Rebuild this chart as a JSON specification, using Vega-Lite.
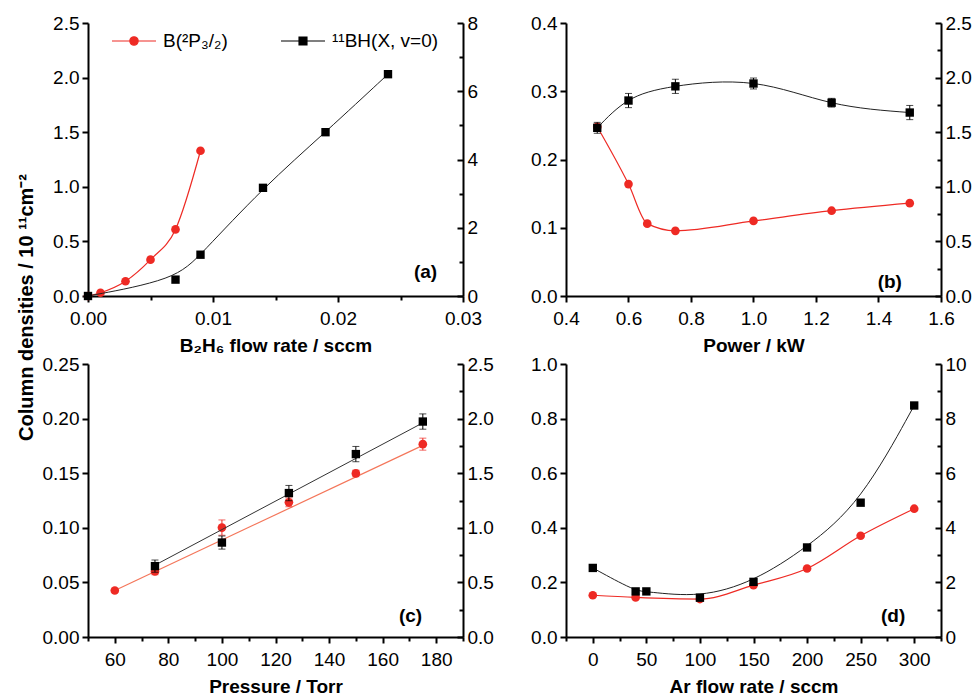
{
  "$schema": "https://vega.github.io/schema/vega-lite/v6.json",
  "background": "white",
  "padding": {"left": 16, "top": 14, "right": 5, "bottom": 5},
  "data": {"values": [
    {"p":"a","s":"r","x":0,"y":0},{"p":"a","s":"r","x":0.001,"y":0.03},{"p":"a","s":"r","x":0.003,"y":0.135},{"p":"a","s":"r","x":0.005,"y":0.333},{"p":"a","s":"r","x":0.007,"y":0.61},{"p":"a","s":"r","x":0.009,"y":1.33},
    {"p":"a","s":"k","x":0,"y":0},{"p":"a","s":"k","x":0.007,"y":0.48},{"p":"a","s":"k","x":0.009,"y":1.21},{"p":"a","s":"k","x":0.014,"y":3.17},{"p":"a","s":"k","x":0.019,"y":4.8},{"p":"a","s":"k","x":0.024,"y":6.5},
    {"p":"b","s":"r","x":0.5,"y":0.248},{"p":"b","s":"r","x":0.6,"y":0.164},{"p":"b","s":"r","x":0.66,"y":0.106},{"p":"b","s":"r","x":0.75,"y":0.0955},{"p":"b","s":"r","x":1.0,"y":0.11},{"p":"b","s":"r","x":1.25,"y":0.125},{"p":"b","s":"r","x":1.5,"y":0.136},
    {"p":"b","s":"k","x":0.5,"y":1.54,"e":0.05},{"p":"b","s":"k","x":0.6,"y":1.79,"e":0.065},{"p":"b","s":"k","x":0.75,"y":1.92,"e":0.065},{"p":"b","s":"k","x":1.0,"y":1.946,"e":0.05},{"p":"b","s":"k","x":1.25,"y":1.77,"e":0.04},{"p":"b","s":"k","x":1.5,"y":1.68,"e":0.065},
    {"p":"c","s":"r","x":60,"y":0.0426,"e":0},{"p":"c","s":"r","x":75,"y":0.06,"e":0.003},{"p":"c","s":"r","x":100,"y":0.1002,"e":0.007},{"p":"c","s":"r","x":125,"y":0.1233,"e":0.004},{"p":"c","s":"r","x":150,"y":0.1498,"e":0.003},{"p":"c","s":"r","x":175,"y":0.1766,"e":0.0055},
    {"p":"c","s":"fr","x":60,"y":0.0426},{"p":"c","s":"fr","x":175,"y":0.1755},
    {"p":"c","s":"k","x":75,"y":0.649,"e":0.056},{"p":"c","s":"k","x":100,"y":0.865,"e":0.06},{"p":"c","s":"k","x":125,"y":1.318,"e":0.07},{"p":"c","s":"k","x":150,"y":1.675,"e":0.07},{"p":"c","s":"k","x":175,"y":1.973,"e":0.07},
    {"p":"c","s":"fk","x":75,"y":0.658},{"p":"c","s":"fk","x":175,"y":1.961},
    {"p":"d","s":"r","x":0,"y":0.153},{"p":"d","s":"r","x":40,"y":0.145},{"p":"d","s":"r","x":100,"y":0.139},{"p":"d","s":"r","x":150,"y":0.19},{"p":"d","s":"r","x":200,"y":0.251},{"p":"d","s":"r","x":250,"y":0.371},{"p":"d","s":"r","x":300,"y":0.47},
    {"p":"d","s":"k","x":0,"y":2.53},{"p":"d","s":"k","x":40,"y":1.67},{"p":"d","s":"k","x":50,"y":1.67},{"p":"d","s":"k","x":100,"y":1.44},{"p":"d","s":"k","x":150,"y":2.02},{"p":"d","s":"k","x":200,"y":3.28},{"p":"d","s":"k","x":250,"y":4.92},{"p":"d","s":"k","x":300,"y":8.48}
  ]},
  "columns": 2,
  "spacing": {"row": 68, "column": 103},
  "bounds": "flush",
  "concat": [
    {
      "width": 375, "height": 273,
      "transform": [{"filter": "datum.p == 'a'"}],
      "layer": [
        {
          "layer": [
            {
              "transform": [{"filter": "datum.s == 'r'"}],
              "encoding": {
                "x": {"field": "x", "type": "quantitative",
                  "scale": {"domain": [0, 0.03], "nice": false, "zero": false},
                  "axis": {"title": "B₂H₆ flow rate / sccm", "values": [0,0.005,0.01,0.015,0.02,0.025,0.03], "format": ".2f",
                    "labelExpr": "abs(datum.value*100-round(datum.value*100))<0.01 ? datum.label : ''",
                    "tickSize": {"condition": {"test": "abs(datum.value*100-round(datum.value*100))<0.01", "value": 6}, "value": 4}}},
                "y": {"field": "y", "type": "quantitative",
                  "scale": {"domain": [0, 2.5], "nice": false},
                  "axis": {"orient": "left", "title": "Column densities / 10 ¹¹cm⁻²", "titleFontSize": 20, "titleX": -62, "titleY": 284, "titleAngle": -90, "titleAlign": "center", "titleBaseline": "middle",
                    "values": [0,0.25,0.5,0.75,1,1.25,1.5,1.75,2,2.25,2.5], "format": ".1f",
                    "labelExpr": "abs(datum.value*2-round(datum.value*2))<0.01 ? datum.label : ''",
                    "tickSize": {"condition": {"test": "abs(datum.value*2-round(datum.value*2))<0.01", "value": 6}, "value": 4}}}},
              "layer": [
                {"mark": {"type": "line", "color": "#ee2a24", "strokeWidth": 1.2, "interpolate": "monotone"}},
                {"mark": {"type": "point", "shape": "circle", "filled": true, "color": "#ee2a24", "size": 75, "opacity": 1}}
              ]
            },
            {"data": {"values": [{"t": "(a)"}]}, "mark": {"type": "text", "fontWeight": "bold", "fontSize": 19, "font": "Liberation Sans", "color": "black"},
             "encoding": {"x": {"datum": 0.027}, "y": {"datum": 0.22}, "text": {"field": "t"}}},
            {"data": {"values": [{"series": "B(²P₃/₂)"}, {"series": "¹¹BH(X, v=0)"}]},
             "mark": {"type": "point", "filled": true, "opacity": 0},
             "encoding": {"x": {"datum": 0}, "y": {"datum": 0},
               "fill": {"field": "series", "type": "nominal", "scale": {"domain": ["B(²P₃/₂)", "¹¹BH(X, v=0)"], "range": ["#ee2a24", "#000000"]}, "title": null},
               "stroke": {"field": "series", "type": "nominal", "scale": {"domain": ["B(²P₃/₂)", "¹¹BH(X, v=0)"], "range": ["#ee2a24", "#000000"]}, "title": null},
               "shape": {"field": "series", "type": "nominal", "scale": {"domain": ["B(²P₃/₂)", "¹¹BH(X, v=0)"], "range": ["M-1,0H1M-0.19,0A0.19,0.19,0,1,1,0.19,0A0.19,0.19,0,1,1,-0.19,0Z", "M-1,0H1M-0.18,-0.18H0.18V0.18H-0.18Z"]}, "title": null}}}
          ]
        },
        {
          "transform": [{"filter": "datum.s == 'k'"}],
          "encoding": {
            "x": {"field": "x", "type": "quantitative",
              "scale": {"domain": [0, 0.03], "nice": false, "zero": false},
              "axis": {"title": "B₂H₆ flow rate / sccm", "values": [0,0.005,0.01,0.015,0.02,0.025,0.03], "format": ".2f",
                "labelExpr": "abs(datum.value*100-round(datum.value*100))<0.01 ? datum.label : ''",
                "tickSize": {"condition": {"test": "abs(datum.value*100-round(datum.value*100))<0.01", "value": 6}, "value": 4}}},
            "y": {"field": "y", "type": "quantitative",
              "scale": {"domain": [0, 8], "nice": false},
              "axis": {"orient": "right", "title": null, "values": [0,1,2,3,4,5,6,7,8], "format": "d",
                "labelExpr": "datum.value % 2 == 0 ? datum.label : ''",
                "tickSize": {"condition": {"test": "datum.value % 2 == 0", "value": -6}, "value": -4}}}},
          "layer": [
            {"mark": {"type": "line", "color": "#222222", "strokeWidth": 1, "interpolate": "basis"}},
            {"mark": {"type": "point", "shape": "square", "filled": true, "color": "#000000", "size": 70, "opacity": 1}}
          ]
        }
      ],
      "resolve": {"scale": {"y": "independent"}, "axis": {"y": "independent"}}
    },
    {
      "width": 375, "height": 273,
      "transform": [{"filter": "datum.p == 'b'"}],
      "layer": [
        {
          "layer": [
            {
              "transform": [{"filter": "datum.s == 'r'"}],
              "encoding": {
                "x": {"field": "x", "type": "quantitative",
                  "scale": {"domain": [0.4, 1.6], "nice": false, "zero": false},
                  "axis": {"title": "Power / kW", "values": [0.4,0.5,0.6,0.7,0.8,0.9,1.0,1.1,1.2,1.3,1.4,1.5,1.6], "format": ".1f",
                    "labelExpr": "abs(datum.value*5-round(datum.value*5))<0.01 ? datum.label : ''",
                    "tickSize": {"condition": {"test": "abs(datum.value*5-round(datum.value*5))<0.01", "value": 6}, "value": 4}}},
                "y": {"field": "y", "type": "quantitative",
                  "scale": {"domain": [0, 0.4], "nice": false},
                  "axis": {"orient": "left", "title": null, "values": [0,0.05,0.1,0.15,0.2,0.25,0.3,0.35,0.4], "format": ".1f",
                    "labelExpr": "abs(datum.value*10-round(datum.value*10))<0.01 ? datum.label : ''",
                    "tickSize": {"condition": {"test": "abs(datum.value*10-round(datum.value*10))<0.01", "value": 6}, "value": 4}}}},
              "layer": [
                {"mark": {"type": "line", "color": "#ee2a24", "strokeWidth": 1.2, "interpolate": "monotone"}},
                {"mark": {"type": "point", "shape": "circle", "filled": true, "color": "#ee2a24", "size": 75, "opacity": 1}}
              ]
            },
            {"data": {"values": [{"t": "(b)"}]}, "mark": {"type": "text", "fontWeight": "bold", "fontSize": 19, "font": "Liberation Sans", "color": "black"},
             "encoding": {"x": {"datum": 1.436}, "y": {"datum": 0.0205}, "text": {"field": "t"}}}
          ]
        },
        {
          "transform": [{"filter": "datum.s == 'k'"}],
          "encoding": {
            "x": {"field": "x", "type": "quantitative",
              "scale": {"domain": [0.4, 1.6], "nice": false, "zero": false},
              "axis": {"title": "Power / kW", "values": [0.4,0.5,0.6,0.7,0.8,0.9,1.0,1.1,1.2,1.3,1.4,1.5,1.6], "format": ".1f",
                "labelExpr": "abs(datum.value*5-round(datum.value*5))<0.01 ? datum.label : ''",
                "tickSize": {"condition": {"test": "abs(datum.value*5-round(datum.value*5))<0.01", "value": 6}, "value": 4}}},
            "y": {"field": "y", "type": "quantitative",
              "scale": {"domain": [0, 2.5], "nice": false},
              "axis": {"orient": "right", "title": null, "values": [0,0.25,0.5,0.75,1,1.25,1.5,1.75,2,2.25,2.5], "format": ".1f",
                "labelExpr": "abs(datum.value*2-round(datum.value*2))<0.01 ? datum.label : ''",
                "tickSize": {"condition": {"test": "abs(datum.value*2-round(datum.value*2))<0.01", "value": -6}, "value": -4}}}},
          "layer": [
            {"mark": {"type": "line", "color": "#222222", "strokeWidth": 1, "interpolate": "natural"}},
            {"mark": {"type": "errorbar", "color": "#000000", "ticks": {"size": 7}},
             "encoding": {"yError": {"field": "e"}}},
            {"mark": {"type": "point", "shape": "square", "filled": true, "color": "#000000", "size": 70, "opacity": 1}}
          ]
        }
      ],
      "resolve": {"scale": {"y": "independent"}, "axis": {"y": "independent"}}
    },
    {
      "width": 375, "height": 273,
      "transform": [{"filter": "datum.p == 'c'"}],
      "layer": [
        {
          "layer": [
            {
              "encoding": {
                "x": {"field": "x", "type": "quantitative",
                  "scale": {"domain": [50, 190], "nice": false, "zero": false},
                  "axis": {"title": "Pressure / Torr", "values": [50,60,70,80,90,100,110,120,130,140,150,160,170,180,190], "format": ".0f",
                    "labelExpr": "abs(datum.value/20-round(datum.value/20))<0.01 ? datum.label : ''",
                    "tickSize": {"condition": {"test": "abs(datum.value/20-round(datum.value/20))<0.01", "value": 6}, "value": 4}}},
                "y": {"field": "y", "type": "quantitative",
                  "scale": {"domain": [0, 0.25], "nice": false},
                  "axis": {"orient": "left", "title": null, "values": [0,0.025,0.05,0.075,0.1,0.125,0.15,0.175,0.2,0.225,0.25], "format": ".2f",
                    "labelExpr": "abs(datum.value*20-round(datum.value*20))<0.01 ? datum.label : ''",
                    "tickSize": {"condition": {"test": "abs(datum.value*20-round(datum.value*20))<0.01", "value": 6}, "value": 4}}}},
              "layer": [
                {"transform": [{"filter": "datum.s == 'fr'"}], "mark": {"type": "line", "color": "#f4765a", "strokeWidth": 1.2}},
                {"transform": [{"filter": "datum.s == 'r' && datum.e > 0"}], "mark": {"type": "errorbar", "color": "#ee2a24", "ticks": {"size": 7}},
                 "encoding": {"yError": {"field": "e"}}},
                {"transform": [{"filter": "datum.s == 'r'"}], "mark": {"type": "point", "shape": "circle", "filled": true, "color": "#ee2a24", "size": 75, "opacity": 1}}
              ]
            },
            {"data": {"values": [{"t": "(c)"}]}, "mark": {"type": "text", "fontWeight": "bold", "fontSize": 19, "font": "Liberation Sans", "color": "black"},
             "encoding": {
               "x": {"datum": 170.4, "type": "quantitative",
                 "scale": {"domain": [50, 190], "nice": false, "zero": false},
                 "axis": {"title": "Pressure / Torr", "values": [50,60,70,80,90,100,110,120,130,140,150,160,170,180,190], "format": ".0f",
                   "labelExpr": "abs(datum.value/20-round(datum.value/20))<0.01 ? datum.label : ''",
                   "tickSize": {"condition": {"test": "abs(datum.value/20-round(datum.value/20))<0.01", "value": 6}, "value": 4}}},
               "y": {"datum": 0.019}, "text": {"field": "t"}}}
          ]
        },
        {
          "encoding": {
            "x": {"field": "x", "type": "quantitative",
              "scale": {"domain": [50, 190], "nice": false, "zero": false},
              "axis": {"title": "Pressure / Torr", "values": [50,60,70,80,90,100,110,120,130,140,150,160,170,180,190], "format": ".0f",
                "labelExpr": "abs(datum.value/20-round(datum.value/20))<0.01 ? datum.label : ''",
                "tickSize": {"condition": {"test": "abs(datum.value/20-round(datum.value/20))<0.01", "value": 6}, "value": 4}}},
            "y": {"field": "y", "type": "quantitative",
              "scale": {"domain": [0, 2.5], "nice": false},
              "axis": {"orient": "right", "title": null, "values": [0,0.25,0.5,0.75,1,1.25,1.5,1.75,2,2.25,2.5], "format": ".1f",
                "labelExpr": "abs(datum.value*2-round(datum.value*2))<0.01 ? datum.label : ''",
                "tickSize": {"condition": {"test": "abs(datum.value*2-round(datum.value*2))<0.01", "value": -6}, "value": -4}}}},
          "layer": [
            {"transform": [{"filter": "datum.s == 'fk'"}], "mark": {"type": "line", "color": "#333333", "strokeWidth": 1}},
            {"transform": [{"filter": "datum.s == 'k'"}], "mark": {"type": "errorbar", "color": "#000000", "ticks": {"size": 7}},
             "encoding": {"yError": {"field": "e"}}},
            {"transform": [{"filter": "datum.s == 'k'"}], "mark": {"type": "point", "shape": "square", "filled": true, "color": "#000000", "size": 70, "opacity": 1}}
          ]
        }
      ],
      "resolve": {"scale": {"y": "independent"}, "axis": {"y": "independent"}}
    },
    {
      "width": 375, "height": 273,
      "transform": [{"filter": "datum.p == 'd'"}],
      "layer": [
        {
          "layer": [
            {
              "transform": [{"filter": "datum.s == 'r'"}],
              "encoding": {
                "x": {"field": "x", "type": "quantitative",
                  "scale": {"domain": [-25, 325], "nice": false, "zero": false},
                  "axis": {"title": "Ar flow rate / sccm", "values": [-25,0,25,50,75,100,125,150,175,200,225,250,275,300,325], "format": ".0f",
                    "labelExpr": "abs(datum.value/50-round(datum.value/50))<0.01 ? datum.label : ''",
                    "tickSize": {"condition": {"test": "abs(datum.value/50-round(datum.value/50))<0.01", "value": 6}, "value": 4}}},
                "y": {"field": "y", "type": "quantitative",
                  "scale": {"domain": [0, 1], "nice": false},
                  "axis": {"orient": "left", "title": null, "values": [0,0.1,0.2,0.3,0.4,0.5,0.6,0.7,0.8,0.9,1.0], "format": ".1f",
                    "labelExpr": "abs(datum.value*5-round(datum.value*5))<0.01 ? datum.label : ''",
                    "tickSize": {"condition": {"test": "abs(datum.value*5-round(datum.value*5))<0.01", "value": 6}, "value": 4}}}},
              "layer": [
                {"mark": {"type": "line", "color": "#ee2a24", "strokeWidth": 1.2, "interpolate": "monotone"}},
                {"mark": {"type": "point", "shape": "circle", "filled": true, "color": "#ee2a24", "size": 75, "opacity": 1}}
              ]
            },
            {"data": {"values": [{"t": "(d)"}]}, "mark": {"type": "text", "fontWeight": "bold", "fontSize": 19, "font": "Liberation Sans", "color": "black"},
             "encoding": {
               "x": {"datum": 280.3, "type": "quantitative",
                 "scale": {"domain": [-25, 325], "nice": false, "zero": false},
                 "axis": {"title": "Ar flow rate / sccm", "values": [-25,0,25,50,75,100,125,150,175,200,225,250,275,300,325], "format": ".0f",
                   "labelExpr": "abs(datum.value/50-round(datum.value/50))<0.01 ? datum.label : ''",
                   "tickSize": {"condition": {"test": "abs(datum.value/50-round(datum.value/50))<0.01", "value": 6}, "value": 4}}},
               "y": {"datum": 0.077}, "text": {"field": "t"}}}
          ]
        },
        {
          "transform": [{"filter": "datum.s == 'k'"}],
          "encoding": {
            "x": {"field": "x", "type": "quantitative",
              "scale": {"domain": [-25, 325], "nice": false, "zero": false},
              "axis": {"title": "Ar flow rate / sccm", "values": [-25,0,25,50,75,100,125,150,175,200,225,250,275,300,325], "format": ".0f",
                "labelExpr": "abs(datum.value/50-round(datum.value/50))<0.01 ? datum.label : ''",
                "tickSize": {"condition": {"test": "abs(datum.value/50-round(datum.value/50))<0.01", "value": 6}, "value": 4}}},
            "y": {"field": "y", "type": "quantitative",
              "scale": {"domain": [0, 10], "nice": false},
              "axis": {"orient": "right", "title": null, "values": [0,1,2,3,4,5,6,7,8,9,10], "format": "d",
                "labelExpr": "datum.value % 2 == 0 ? datum.label : ''",
                "tickSize": {"condition": {"test": "datum.value % 2 == 0", "value": -6}, "value": -4}}}},
          "layer": [
            {"mark": {"type": "line", "color": "#222222", "strokeWidth": 1, "interpolate": "basis"}},
            {"mark": {"type": "point", "shape": "square", "filled": true, "color": "#000000", "size": 70, "opacity": 1}}
          ]
        }
      ],
      "resolve": {"scale": {"y": "independent"}, "axis": {"y": "independent"}}
    }
  ],
  "config": {
    "view": {"stroke": null},
    "font": "Liberation Sans",
    "axis": {"domainColor": "#000000", "domainWidth": 2, "tickColor": "#000000", "tickWidth": 2,
      "labelColor": "#000000", "labelFont": "Liberation Sans", "labelFontSize": 19,
      "titleColor": "#000000", "titleFont": "Liberation Sans", "titleFontSize": 19, "titleFontWeight": "bold",
      "grid": false, "labelFlush": false, "labelOverlap": false, "labelBound": false},
    "axisX": {"labelPadding": 7, "titlePadding": 8},
    "axisLeft": {"labelPadding": 3},
    "axisRight": {"labelPadding": 10},
    "legend": {"orient": "none", "legendX": 23, "legendY": -5, "direction": "horizontal", "columns": 2,
      "symbolSize": 1936, "symbolStrokeWidth": 1.2, "symbolOpacity": 1,
      "labelFont": "Liberation Sans", "labelFontSize": 19, "labelColor": "#000000", "labelOffset": 6,
      "columnPadding": 50, "padding": 0, "labelLimit": 300}
  }
}
